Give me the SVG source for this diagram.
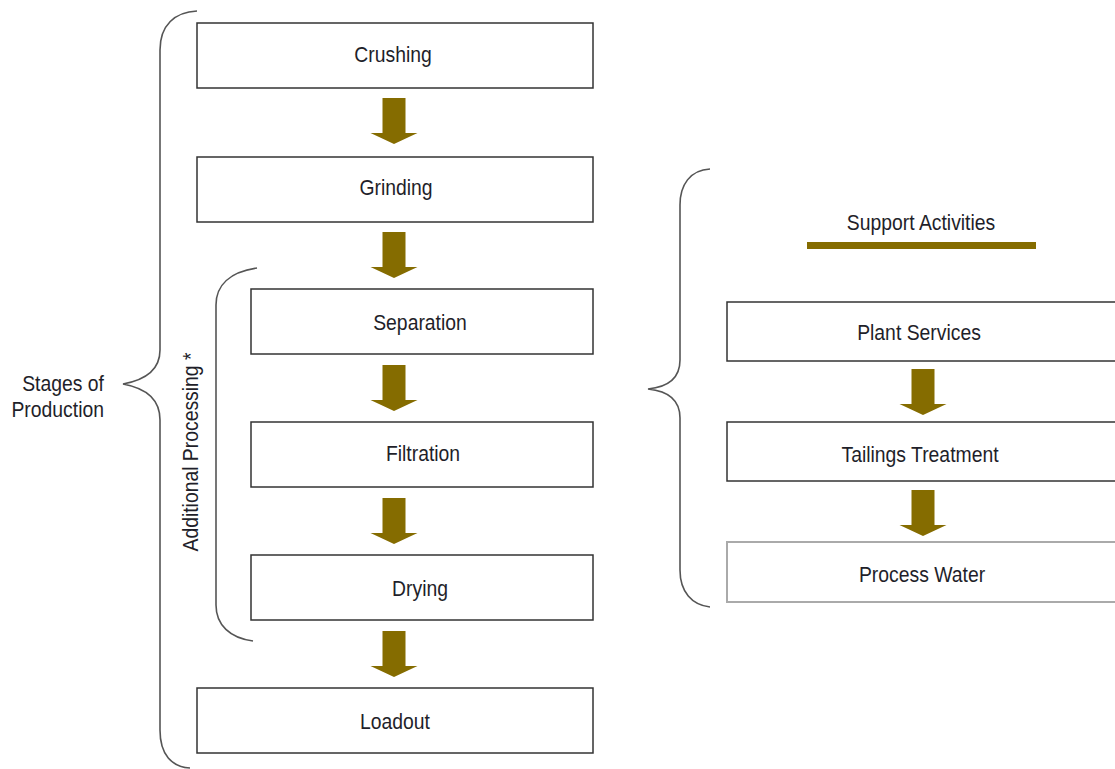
<svg xmlns="http://www.w3.org/2000/svg" xmlns:xlink="http://www.w3.org/1999/xlink" width="1115" height="769" viewBox="0 0 1115 769">
  <style>
    .box { fill: #ffffff; stroke: #333333; stroke-width: 1.5; }
    .box-light { fill: #ffffff; stroke: #aaaaaa; stroke-width: 2; }
    .label { font-family: "Liberation Sans", Arial, sans-serif; font-size: 22px; fill: #1f1f2a; text-anchor: middle; }
    .side { font-family: "Liberation Sans", Arial, sans-serif; font-size: 22px; fill: #1f1f2a; }
    .brace { fill: none; stroke: #555555; stroke-width: 1.6; }
    .flow { fill: #856c00; }
  </style>
  <defs>
    <!-- block arrow pointing down, origin at top centre of shaft -->
    <path id="down-arrow" d="M-11.5,0 H11.5 V35 H23.5 L0,46 L-23.5,35 H-11.5 Z"/>
  </defs>

  <!-- braces -->
  <g id="braces">
    <path class="brace" d="M197,11 C175,12 160,25 160,50 L160,350 C160,370 145,380 123,384 C145,388 160,398 160,420 L160,730 C160,755 172,767 190,768"/>
    <path class="brace" d="M257,268 C230,272 216,285 216,305 L216,605 C216,625 230,638 253,641"/>
    <path class="brace" d="M710,169 C690,170 680,185 680,205 L680,360 C680,378 668,387 648,389 C668,391 680,400 680,418 L680,570 C680,592 692,605 710,607"/>
  </g>

  <!-- brace labels (condensed lettering) -->
  <g id="stages-label">
    <text class="side" transform="translate(104,391) scale(0.88,1)" text-anchor="end">Stages of</text>
    <text class="side" transform="translate(104,417) scale(0.88,1)" text-anchor="end">Production</text>
  </g>
  <g id="additional-label">
    <text class="side" transform="translate(198,452) rotate(-90) scale(0.88,1)" text-anchor="middle">Additional Processing *</text>
  </g>

  <!-- connectors -->
  <g id="connectors" class="flow">
    <use xlink:href="#down-arrow" x="394" y="98"/>
    <use xlink:href="#down-arrow" x="394" y="232"/>
    <use xlink:href="#down-arrow" x="394" y="365"/>
    <use xlink:href="#down-arrow" x="394" y="498"/>
    <use xlink:href="#down-arrow" x="394" y="631"/>
    <use xlink:href="#down-arrow" x="923" y="369"/>
    <use xlink:href="#down-arrow" x="923" y="490"/>
  </g>

  <!-- production stages -->
  <g id="crushing">
    <rect class="box" x="197" y="23" width="396" height="65"/>
    <text class="label" transform="translate(393,62) scale(0.88,1)">Crushing</text>
  </g>
  <g id="grinding">
    <rect class="box" x="197" y="157" width="396" height="65"/>
    <text class="label" transform="translate(396,195) scale(0.88,1)">Grinding</text>
  </g>
  <g id="separation">
    <rect class="box" x="251" y="289" width="342" height="65"/>
    <text class="label" transform="translate(420,330) scale(0.88,1)">Separation</text>
  </g>
  <g id="filtration">
    <rect class="box" x="251" y="422" width="342" height="65"/>
    <text class="label" transform="translate(423,461) scale(0.88,1)">Filtration</text>
  </g>
  <g id="drying">
    <rect class="box" x="251" y="555" width="342" height="65"/>
    <text class="label" transform="translate(420,596) scale(0.88,1)">Drying</text>
  </g>
  <g id="loadout">
    <rect class="box" x="197" y="688" width="396" height="65"/>
    <text class="label" transform="translate(395,729) scale(0.88,1)">Loadout</text>
  </g>

  <!-- support activities -->
  <g id="support-activities">
    <text class="label" transform="translate(921,230) scale(0.88,1)">Support Activities</text>
    <rect class="flow" x="807" y="242" width="229" height="7"/>
  </g>
  <g id="plant-services">
    <rect class="box" x="727" y="302" width="392" height="59"/>
    <text class="label" transform="translate(919,340) scale(0.88,1)">Plant Services</text>
  </g>
  <g id="tailings-treatment">
    <rect class="box" x="727" y="422" width="392" height="59"/>
    <text class="label" transform="translate(920,462) scale(0.88,1)">Tailings Treatment</text>
  </g>
  <g id="process-water">
    <rect class="box-light" x="727" y="542" width="392" height="60"/>
    <text class="label" transform="translate(922,582) scale(0.88,1)">Process Water</text>
  </g>
</svg>
